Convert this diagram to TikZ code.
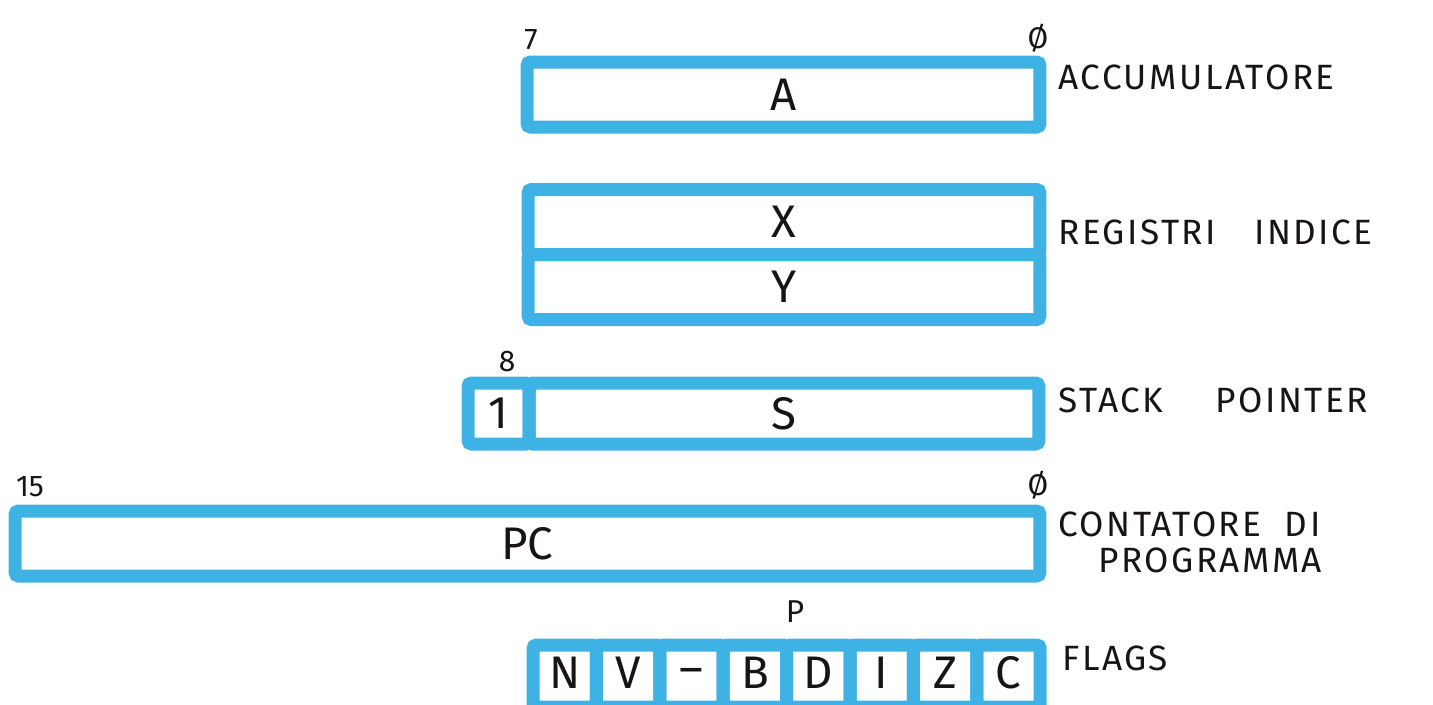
\documentclass[tikz,border=0pt]{standalone}
\usepackage{fontspec}
\setmainfont{Fira Sans}
\newfontfamily\descfont{Fira Sans}[LetterSpace=7]
\definecolor{regblue}{RGB}{62,178,228}
\definecolor{ink}{RGB}{25,20,20}
\newcommand\pxu{0.569055pt}
\tikzset{
  reg/.style={draw=regblue, line width=7.4pt, rounded corners=2pt, inner sep=0pt,
    font=\fontsize{26}{26}\selectfont, text=ink, anchor=center},
  bitno/.style={font=\fontsize{17}{17}\selectfont, text=ink, inner sep=0pt},
  desc/.style={font=\descfont\fontsize{20}{22}\selectfont, text=ink, inner sep=0pt, anchor=west, align=left},
  flagcell/.style={reg, minimum width=63.4*\pxu, minimum height=62*\pxu}
}
\begin{document}
\begin{tikzpicture}[x=0.02cm, y=-0.02cm]
\useasboundingbox (0,0) rectangle (1433,704);
% Accumulator
\node[reg, minimum width=513*\pxu, minimum height=65*\pxu] (A) at (783.5,94.5) {A};
\node[bitno] (a7) at (531,40) {7};
\node[bitno] (a0) at (1038,38) {Ø};
\node[desc] (accl) at (1058,77) {ACCUMULATORE};
% Index registers
\node[reg, minimum width=512*\pxu, minimum height=65*\pxu] (X) at (784,222) {X};
\node[reg, minimum width=512*\pxu, minimum height=65*\pxu] (Y) at (784,287) {Y};
\node[desc] (idxl) at (1058,232) {REGISTRI\hspace{22pt}INDICE};
% Stack pointer
\node[reg, minimum width=61*\pxu, minimum height=61*\pxu] (one) at (498.5,413.5) {1};
\node[reg, minimum width=510*\pxu, minimum height=61*\pxu] (S) at (784,413.5) {S};
\node[bitno] (s8) at (507,362) {8};
\node[desc] (spl) at (1058,400) {STACK\hspace{30pt}POINTER};
% Program counter
\node[reg, minimum width=1025*\pxu, minimum height=65*\pxu] (PC) at (527.5,543.5) {PC};
\node[bitno] (p15) at (30,487) {15};
\node[bitno] (p0) at (1038,485) {Ø};
\node[desc] (pcl1) at (1058,524) {CONTATORE\ \ DI};
\node[desc] (pcl2) at (1098,560) {PROGRAMMA};
% Flags
\node[bitno, font=\fontsize{18}{18}\selectfont] (P) at (795,612) {P};
\foreach \f/\r [count=\i from 0] in {N/4pt,V/4pt,–/-1pt,B/4pt,D/4pt,I/4pt,Z/4pt,C/4pt} {
  \node[flagcell] (f\i) at ({533+63.4*(\i+0.5)},676) {\raisebox{\r}{\f}};
}
\node[desc] (flgl) at (1062,658) {FLAGS};
\end{tikzpicture}
\end{document}
